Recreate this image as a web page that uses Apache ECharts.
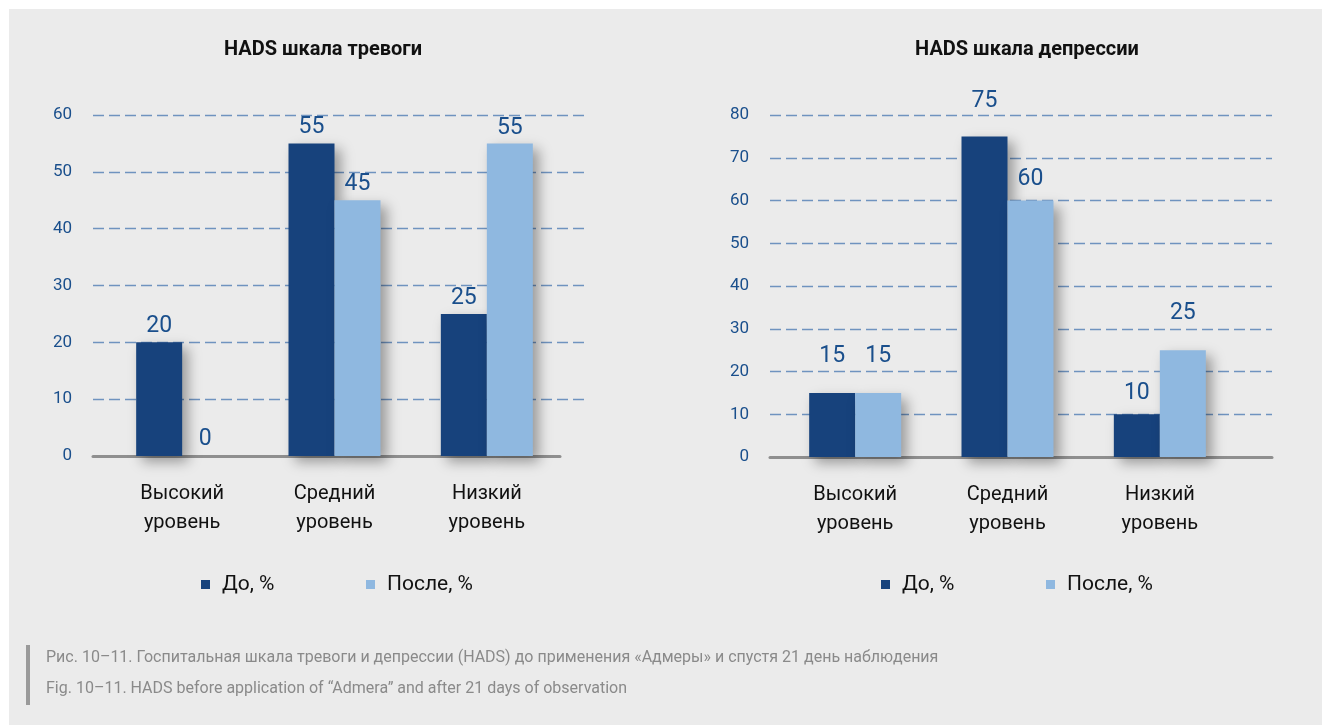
<!DOCTYPE html>
<html>
<head>
<meta charset="utf-8">
<script src="https://cdn.jsdelivr.net/npm/echarts@6/dist/echarts.min.js"></script>
<style>
html,body{margin:0;padding:0;background:#ffffff;}
#panel{position:absolute;left:9px;top:9px;width:1313px;height:716px;background:#ebebeb;}
#chart{position:absolute;left:0;top:0;width:1322px;height:725px;}
</style>
</head>
<body>
<div id="panel"></div>
<div id="chart"></div>
<script>
// ---- data ----
const categories = ['Высокий\nуровень', 'Средний\nуровень', 'Низкий\nуровень'];
const seriesNames = ['До, %', 'После, %'];
const anxietyBefore = [20, 55, 25];
const anxietyAfter = [0, 45, 55];
const depressionBefore = [15, 75, 10];
const depressionAfter = [15, 60, 25];
const titleAnxiety = 'HADS шкала тревоги';
const titleDepression = 'HADS шкала депрессии';
const captionRu = 'Рис. 10–11. Госпитальная шкала тревоги и депрессии (HADS) до применения «Адмеры» и спустя 21 день наблюдения';
const captionEn = 'Fig. 10–11. HADS before application of “Admera” and after 21 days of observation';

// ---- style ----
const FONT = '"Liberation Sans Narrow", "Arial Narrow", "Roboto", sans-serif';
const DARK = '#17427c';
const LIGHT = '#8fb8e0';
const LABEL = '#1a4f8c';
const GRIDLINE = '#6f93bf';

const chart = echarts.init(document.getElementById('chart'), null, {renderer: 'canvas'});

function barSeries(name, values, color, xi, yi, distances) {
  return {
    name: name, type: 'bar', xAxisIndex: xi, yAxisIndex: yi,
    barWidth: 46, barGap: '0%',
    itemStyle: {color: color, shadowBlur: 12, shadowOffsetX: 6, shadowOffsetY: 6, shadowColor: 'rgba(0,0,0,0.35)'},
    data: values.map((v, i) => ({value: v, label: {distance: distances[i]}})),
    label: {show: true, position: 'top', color: LABEL, fontFamily: FONT, fontSize: 23},
    emphasis: {disabled: true}
  };
}

function decoY(gi, max) {
  return {
    gridIndex: gi, type: 'value', min: 0, max: max, interval: 10,
    axisLine: {show: false}, axisTick: {show: false},
    axisLabel: {color: LABEL, fontFamily: FONT, fontSize: 17, margin: 21},
    splitLine: {showMinLine: false, lineStyle: {color: GRIDLINE, width: 1.3, type: [11, 5]}}
  };
}
function hiddenY(gi, max) {
  return {gridIndex: gi, type: 'value', min: 0, max: max, interval: 10, show: false, splitLine: {show: false}};
}
function hiddenX(gi) {
  return {gridIndex: gi, type: 'value', min: 0, max: 1, show: false, splitLine: {show: false}};
}
function axisLineX(gi) {
  return {gridIndex: gi, type: 'value', min: 0, max: 1, axisLine: {show: true, lineStyle: {color: '#8f8f8f', width: 3}},
    axisTick: {show: false}, axisLabel: {show: false}, splitLine: {show: false}};
}
function catX(gi) {
  return {gridIndex: gi, type: 'category', data: categories,
    axisLine: {show: false}, axisTick: {show: false}, splitLine: {show: false},
    axisLabel: {color: '#111', fontFamily: FONT, fontSize: 20, lineHeight: 29, margin: 23}};
}
function legendItem(name, left) {
  return {data: [name], left: left, top: 569, icon: 'rect', itemWidth: 9, itemHeight: 9,
    selectedMode: false,
    textStyle: {color: '#111', fontFamily: FONT, fontSize: 21, padding: [0, 0, 0, 7]}};
}

const option = {
  animation: false,
  backgroundColor: 'transparent',
  title: [
    {text: titleAnxiety, left: 318, top: 35, textAlign: 'center',
      textStyle: {fontFamily: FONT, fontWeight: 'bold', fontSize: 20, color: '#111'}},
    {text: titleDepression, left: 1022, top: 35, textAlign: 'center',
      textStyle: {fontFamily: FONT, fontWeight: 'bold', fontSize: 20, color: '#111'}}
  ],
  legend: [
    legendItem(seriesNames[0], 196), legendItem(seriesNames[1], 361),
    legendItem(seriesNames[0], 876), legendItem(seriesNames[1], 1041)
  ],
  grid: [
    // left: gridlines, axis line, bars
    {left: 93, width: 494, top: 115, height: 341},
    {left: 93, width: 467, top: 115, height: 341},
    {left: 106, width: 457, top: 115, height: 341},
    // right
    {left: 770, width: 502, top: 115, height: 342},
    {left: 770, width: 502, top: 115, height: 342},
    {left: 779, width: 457, top: 115, height: 342}
  ],
  xAxis: [hiddenX(0), axisLineX(1), catX(2), hiddenX(3), axisLineX(4), catX(5)],
  yAxis: [decoY(0, 60), hiddenY(1, 60), hiddenY(2, 60), decoY(3, 80), hiddenY(4, 80), hiddenY(5, 80)],
  series: [
    barSeries(seriesNames[0], anxietyBefore, DARK, 2, 2, [5, 5, 4]),
    barSeries(seriesNames[1], anxietyAfter, LIGHT, 2, 2, [5, 5, 4]),
    barSeries(seriesNames[0], depressionBefore, DARK, 5, 5, [25, 24, 10]),
    barSeries(seriesNames[1], depressionAfter, LIGHT, 5, 5, [25, 10, 25])
  ],
  graphic: [
    {type: 'rect', left: 26, top: 645, shape: {width: 4, height: 60}, style: {fill: '#9a9a9a'}},
    {type: 'text', left: 46, top: 650, style: {text: captionRu, fill: '#8a8a8a', font: '16px ' + FONT}},
    {type: 'text', left: 46, top: 681, style: {text: captionEn, fill: '#8a8a8a', font: '16px ' + FONT}}
  ]
};
chart.setOption(option);
</script>
</body>
</html>
